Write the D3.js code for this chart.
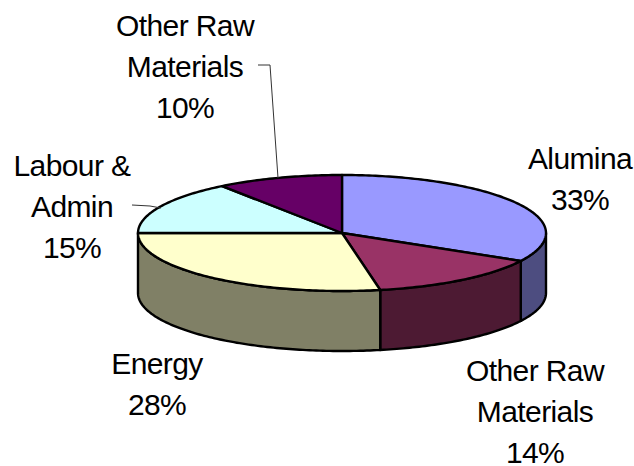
<!DOCTYPE html>
<html>
<head>
<meta charset="utf-8">
<script src="https://cdn.jsdelivr.net/npm/d3@7"></script>
<style>
html,body{margin:0;padding:0;background:#fff}
svg{display:block}
text{font-family:"Liberation Sans",Arial,sans-serif;font-size:30px;fill:#000;text-anchor:middle;letter-spacing:-0.6px}
</style>
</head>
<body>
<svg id="chart" width="634" height="466"></svg>
<script>
const categories = ["Alumina", "Other Raw Materials", "Energy", "Labour & Admin", "Other Raw Materials"];
const shares = [33, 14, 28, 15, 10];
const topColours = ["#9999ff", "#993366", "#ffffcc", "#ccffff", "#660066"];
const sideColours = ["#4d4d80", "#4d1a33", "#808066", "#668080", "#330033"];
const labelLines = [
  ["Alumina", "33%"],
  ["Other Raw", "Materials", "14%"],
  ["Energy", "28%"],
  ["Labour &", "Admin", "15%"],
  ["Other Raw", "Materials", "10%"]
];
const labelAnchors = [[580, 169], [535, 381], [157, 374], [72, 176], [185, 36]];

const cx = 342, cy = 233, rx = 204, ry = 58, depth = 60;
const svg = d3.select("#chart");

// Tilted disc: a pie angle maps to a point on the ellipse through two linear scales.
const xScale = d3.scaleLinear().domain([-1, 1]).range([cx - rx, cx + rx]);
const yScale = d3.scaleLinear().domain([-1, 1]).range([cy - ry, cy + ry]);
const rimPoint = (a, drop = 0) => [xScale(Math.sin(a)), yScale(-Math.cos(a)) + drop];

const slices = d3.pie().sort(null).value(d => d)(shares);
const line = d3.line();

function arcPoints(a0, a1, drop) {
  const n = Math.max(2, Math.ceil((a1 - a0) * 60));
  return d3.range(n + 1).map(i => rimPoint(a0 + (a1 - a0) * i / n, drop));
}

// Only the part of the rim facing the viewer (right through left, via the bottom) gets a wall.
const wallFrom = Math.PI / 2, wallTo = 3 * Math.PI / 2;
const walls = svg.append("g");
slices.forEach((s, i) => {
  const a0 = Math.max(s.startAngle, wallFrom), a1 = Math.min(s.endAngle, wallTo);
  if (a1 <= a0) return;
  const pts = arcPoints(a0, a1, 0).concat(arcPoints(a0, a1, depth).reverse());
  walls.append("path")
    .attr("d", line(pts) + "Z")
    .attr("fill", sideColours[i])
    .attr("stroke", "#000").attr("stroke-width", 2.4).attr("stroke-linejoin", "round");
});

const tops = svg.append("g");
slices.forEach((s, i) => {
  const pts = [[cx, cy]].concat(arcPoints(s.startAngle, s.endAngle, 0));
  tops.append("path")
    .attr("d", line(pts) + "Z")
    .attr("fill", topColours[i])
    .attr("stroke", "#000").attr("stroke-width", 2.4).attr("stroke-linejoin", "round");
});

// Leader lines for the two labels sitting above the left of the disc.
const leaders = [
  [[258, 65], [270, 65], [278, 178]],
  [[132, 205], [150, 206], [161, 208]]
];
svg.append("g").selectAll("path").data(leaders).join("path")
  .attr("d", d => line(d))
  .attr("fill", "none").attr("stroke", "#333").attr("stroke-width", 1);

const labels = svg.append("g").selectAll("text").data(labelLines).join("text")
  .attr("transform", (d, i) => `translate(${labelAnchors[i][0]},${labelAnchors[i][1]})`);
labels.selectAll("tspan").data(d => d).join("tspan")
  .attr("x", 0).attr("y", (d, j) => j * 41).text(d => d);
</script>
</body>
</html>
